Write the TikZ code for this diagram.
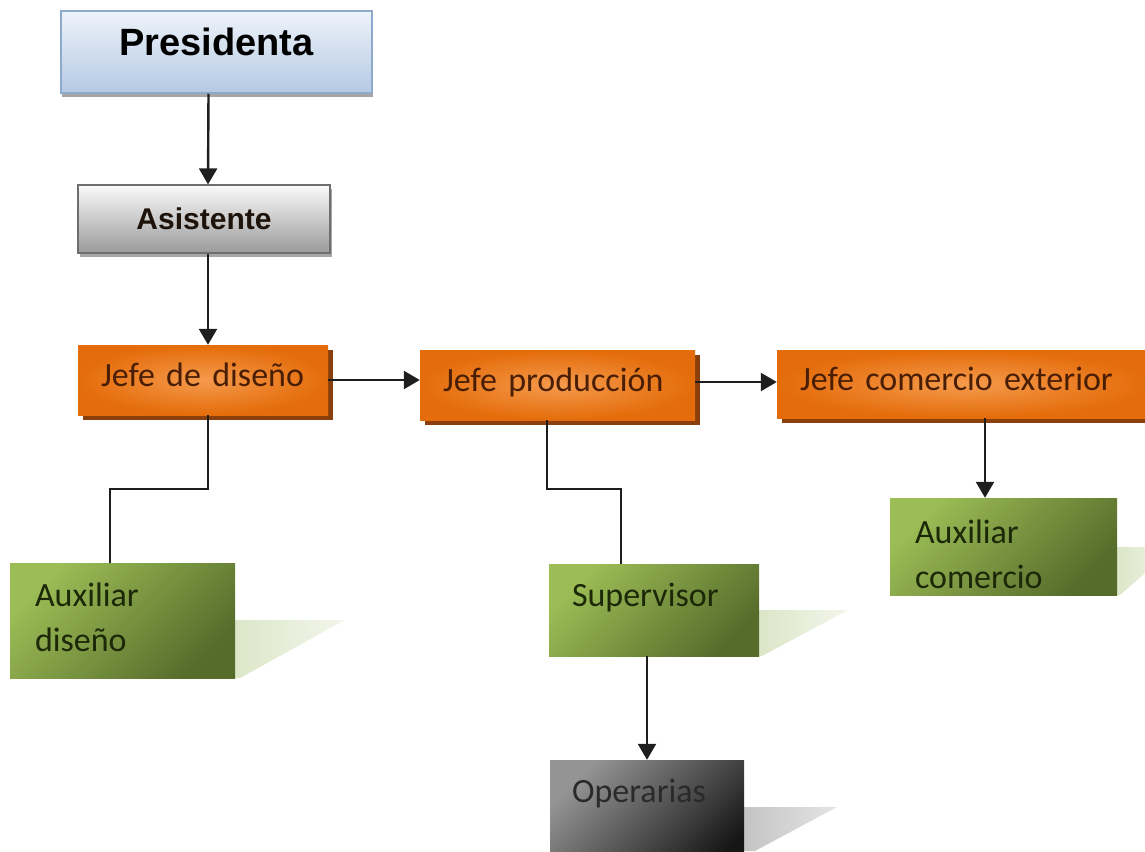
\documentclass[tikz,border=0pt]{standalone}
\usepackage{fontspec}
\setmainfont{Carlito}
\newfontfamily\arialfont{Liberation Sans}
\usetikzlibrary{arrows.meta,positioning,calc,shadows}
\definecolor{presTop}{HTML}{EEF3FA}
\definecolor{presBot}{HTML}{B4C9E3}
\definecolor{presLine}{HTML}{8DA9CC}
\definecolor{asisTop}{HTML}{FAFAFA}
\definecolor{asisBot}{HTML}{9A9A9A}
\definecolor{asisLine}{HTML}{6E6E6E}
\definecolor{orDark}{HTML}{E46C0A}
\definecolor{orLight}{HTML}{F59A4C}
\definecolor{orShadow}{HTML}{8A3F0C}
\definecolor{orText}{HTML}{4A1E05}
\definecolor{grLight}{HTML}{9CBD56}
\definecolor{grDark}{HTML}{566C2B}
\definecolor{grText}{HTML}{1C2808}
\definecolor{grShade}{HTML}{DCE6C8}
\definecolor{opLight}{HTML}{949494}
\definecolor{opDark}{HTML}{161616}
\definecolor{opShade}{HTML}{C4C4C4}
\definecolor{opText}{HTML}{2A2A2A}
\definecolor{lineC}{HTML}{1E1E1E}

\begin{document}
\begin{tikzpicture}[x=1pt,y=-1pt,>={Triangle[width=18pt,length=16pt]},
  arr/.style={->,line width=2.4pt,draw=lineC},
  conn/.style={line width=2.4pt,draw=lineC},
  rootbox/.style={rectangle,inner sep=0pt,draw=presLine,line width=1.5pt,
    top color=presTop,bottom color=presBot,
    drop shadow={shadow xshift=1pt,shadow yshift=-4pt,fill=gray!70,opacity=1},
    font=\arialfont\bfseries\fontsize{38}{40}\selectfont},
  asisbox/.style={rectangle,inner sep=0pt,draw=asisLine,line width=1.2pt,
    top color=asisTop,bottom color=asisBot,
    drop shadow={shadow xshift=2pt,shadow yshift=-4pt,fill=gray!70,opacity=1},
    font=\arialfont\bfseries\fontsize{30}{32}\selectfont,text=black!85!brown},
  jefebox/.style={rectangle,inner xsep=23pt,inner ysep=0pt,minimum height=70pt,
    inner color=orLight,outer color=orDark,
    drop shadow={shadow xshift=5pt,shadow yshift=-5pt,fill=orShadow,opacity=1},
    text height=24pt,text depth=12pt,align=left,
    font=\fontsize{34}{40}\selectfont,text=orText},
  auxbox/.style={rectangle,inner sep=0pt,top color=grLight,bottom color=grDark,shading angle=45},
  operbox/.style={rectangle,inner sep=0pt,top color=opLight,bottom color=opDark,shading angle=45},
  lbl/.style={inner sep=0pt,align=left,font=\fontsize{34}{45}\selectfont}]
\useasboundingbox (0,0) rectangle (1145,851);
% flat shadows under the lower boxes
\shade[left color=grShade,right color=grShade!35!white] (235,620) -- (345,620) -- (240,678) -- (235,678) -- cycle;
\shade[left color=grShade,right color=grShade!35!white] (759,610) -- (848,610) -- (762,656) -- (759,656) -- cycle;
\shade[left color=grShade,right color=grShade!35!white] (1117,547) -- (1175,547) -- (1120,595) -- (1117,595) -- cycle;
\shade[left color=opShade,right color=opShade!45!white] (744,807) -- (837,807) -- (755,851) -- (744,851) -- cycle;
% top of the chart
\node[rootbox,minimum width=311pt,minimum height=82pt,text height=27pt,text depth=20pt] (pres) at (216.5,52) {Presidenta};
\node[asisbox,minimum width=252pt,minimum height=68pt,text height=22pt,text depth=2pt] (asis) at (204,219) {Asistente};
% jefes
\node[jefebox,text width=204pt] (jdis) at (203,380) {Jefe de diseño};
\node[jefebox,text width=229pt] (jprod) at (557.5,385) {Jefe producción};
\node[jefebox,text width=327pt,minimum height=68pt] (jcom) at (963.5,384) {Jefe comercio exterior};
% auxiliares
\node[auxbox,minimum width=225pt,minimum height=115pt] (auxd) at (122.5,620.5) {};
\node[lbl,text=grText,anchor=north west] (auxdT) at ([xshift=25pt,yshift=-20pt]auxd.north west) {Auxiliar\\diseño};
\node[auxbox,minimum width=210pt,minimum height=92pt] (sup) at (654,610) {};
\node[lbl,text=grText,anchor=base west] (supT) at ([xshift=23pt,yshift=-43pt]sup.north west) {Supervisor};
\node[auxbox,minimum width=227pt,minimum height=97pt] (auxc) at (1003.5,546.5) {};
\node[lbl,text=grText,anchor=north west] (auxcT) at ([xshift=25pt,yshift=-22pt]auxc.north west) {Auxiliar\\comercio};
\node[operbox,minimum width=194pt,minimum height=120pt] (oper) at (647,820) {};
\node[lbl,text=opText,anchor=base west] (operT) at ([xshift=22pt,yshift=-43pt]oper.north west) {Operarias};
% connectors
\draw[arr] ([xshift=-8pt]pres.south) -- ([xshift=4pt]asis.north);
\draw[arr] ([xshift=4pt]asis.south) -- ([xshift=5pt]jdis.north);
\draw[arr] (jdis.east) -- (jdis.east -| jprod.west);
\draw[arr] ([yshift=3pt]jprod.east) -- ([yshift=3pt]jprod.east -| jcom.west);
\draw[conn] ([xshift=5pt]jdis.south) -- ++(0,74) -| ([xshift=-12.5pt]auxd.north);
\draw[conn] ([xshift=-10.5pt]jprod.south) -- ++(0,69) -| ([xshift=-33pt]sup.north);
\draw[arr] ([xshift=-18.5pt]auxc.north |- jcom.south) -- ([xshift=-18.5pt]auxc.north);
\draw[arr] (sup.south -| oper.north) -- (oper.north);
\end{tikzpicture}
\end{document}
